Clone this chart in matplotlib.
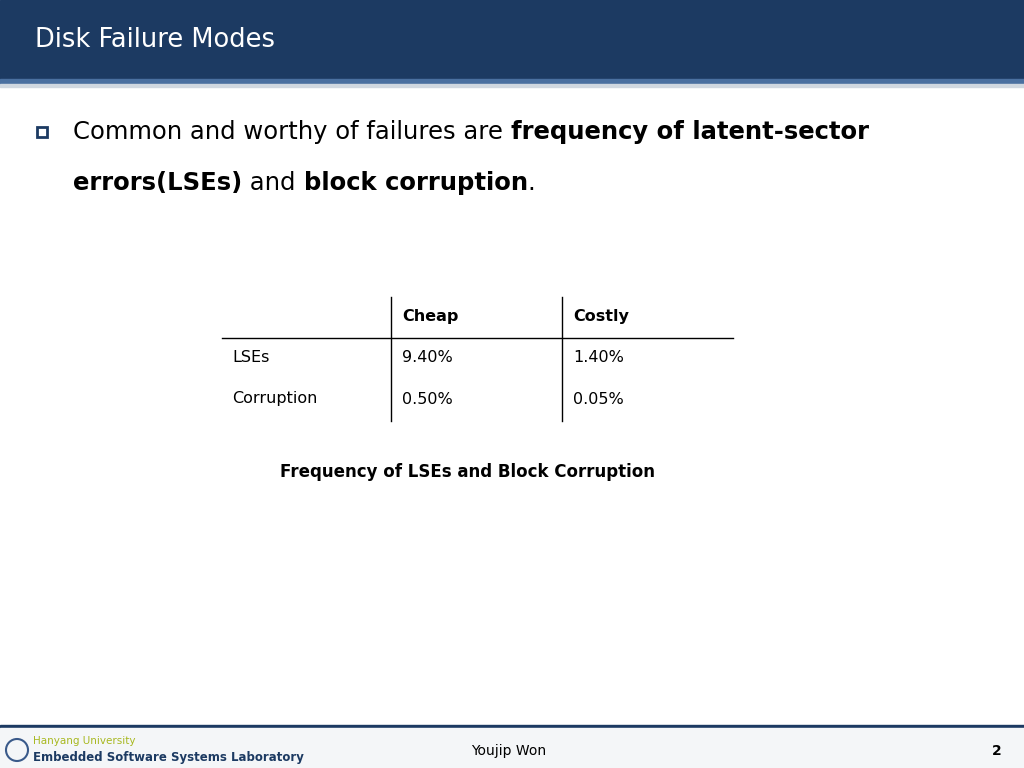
import matplotlib
matplotlib.use("Agg")
import matplotlib.pyplot as plt
from matplotlib.patches import Rectangle
from matplotlib.lines import Line2D

TITLE = "Disk Failure Modes"
COLUMNS = ["Cheap", "Costly"]
ROWS = ["LSEs", "Corruption"]
VALUES = [["9.40%", "1.40%"], ["0.50%", "0.05%"]]
CAPTION = "Frequency of LSEs and Block Corruption"
BULLET_LINE1 = [("Common and worthy of failures are ", "normal"),
                ("frequency of latent-sector", "bold")]
BULLET_LINE2 = [("errors(LSEs)", "bold"), (" and ", "normal"),
                ("block corruption", "bold"), (".", "normal")]

W, H = 1024, 768
FONT = "DejaVu Sans"

fig = plt.figure(figsize=(W / 100, H / 100), dpi=100)
ax = fig.add_axes([0, 0, 1, 1])
ax.set_xlim(0, W)
ax.set_ylim(H, 0)
ax.axis("off")

# header bar
ax.add_patch(Rectangle((0, 0), W, 79, color="#1c3a62"))
ax.add_patch(Rectangle((0, 79), W, 5, color="#4a70a0"))
ax.add_patch(Rectangle((0, 84), W, 3, color="#d0d8e0"))
ax.text(35, 40, TITLE, fontsize=18.5, color="white", va="center", family=FONT)

# bullet
ax.add_patch(Rectangle((37, 127), 10, 10, fill=False, lw=2, edgecolor="#1c3a62"))

fig.canvas.draw()
renderer = fig.canvas.get_renderer()


def write_runs(x, y, runs):
    for txt, weight in runs:
        t = ax.text(x, y, txt, fontsize=17.5, fontweight=weight, va="center",
                    family=FONT, color="black")
        bb = t.get_window_extent(renderer)
        x += bb.width


write_runs(73, 132, BULLET_LINE1)
write_runs(73, 183, BULLET_LINE2)

# table
left, right = 222, 733
col_x = [391, 562]
ax.add_line(Line2D([left, right], [338, 338], color="black", lw=1))
for cx in col_x:
    ax.add_line(Line2D([cx, cx], [297, 421], color="black", lw=1))
for j, c in enumerate(COLUMNS):
    ax.text(col_x[j] + 11, 316, c, fontsize=11.5, fontweight="bold",
            va="center", family=FONT)
for i, r in enumerate(ROWS):
    y = 357 + 42 * i
    ax.text(232, y, r, fontsize=11.5, va="center", family=FONT)
    for j, v in enumerate(VALUES[i]):
        ax.text(col_x[j] + 11, y, v, fontsize=11.5, va="center", family=FONT)

ax.text(467, 472, CAPTION, fontsize=12, fontweight="bold", ha="center",
        va="center", family=FONT)

# footer
ax.add_patch(Rectangle((0, 725), W, 3, color="#1c3a62"))
ax.add_patch(Rectangle((0, 728), W, 40, color="#f4f6f8"))
ax.add_patch(plt.Circle((17, 750), 11, fill=False, edgecolor="#3a5a8a", lw=1.5))
ax.text(33, 741, "Hanyang University", fontsize=7.5, color="#a8b820",
        va="center", family="DejaVu Sans")
ax.text(33, 757, "Embedded Software Systems Laboratory", fontsize=8.5,
        fontweight="bold", color="#1c3a62", va="center", family="DejaVu Sans")
ax.text(509, 751, "Youjip Won", fontsize=10, ha="center", va="center",
        family=FONT)
ax.text(997, 751, "2", fontsize=10, fontweight="bold", ha="center",
        va="center", family=FONT)

fig.savefig("out.png", dpi=100)
